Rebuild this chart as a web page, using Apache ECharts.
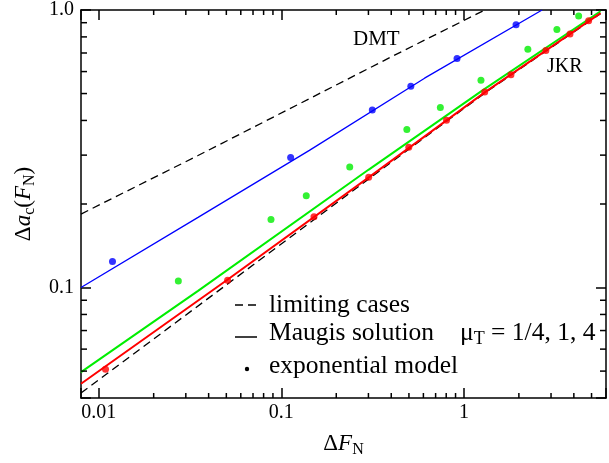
<!DOCTYPE html>
<html>
<head>
<meta charset="utf-8">
<title>contact radius vs load</title>
<style>
    html, body { margin: 0; padding: 0; background: #fff; }
    #chart { width: 609px; height: 463px; }
</style>
</head>
<body>
<div id="chart"></div>
<script src="https://cdn.jsdelivr.net/npm/echarts@6/dist/echarts.min.js"></script>
<script>
    // axis ranges (log-log)
    var xMin = 0.008, xMax = 6;
    var yMin = 0.04, yMax = 1;

    // minor ticks, 2..9 of each decade
    var xMinorTicks = [0.02, 0.03, 0.04, 0.05, 0.06, 0.07, 0.08, 0.09,
        0.2, 0.3, 0.4, 0.5, 0.6, 0.7, 0.8, 0.9, 2, 3, 4, 5];
    var yMinorTicks = [0.05, 0.06, 0.07, 0.08, 0.09,
        0.2, 0.3, 0.4, 0.5, 0.6, 0.7, 0.8, 0.9];

    // limiting cases (dashed)
    var dmtX = [0.008, 0.035, 0.404, 1.30];
    var dmtY = [0.184, 0.299, 0.680, 1.0];
    var jkrX = [0.008, 0.0652, 0.30, 1.30, 5.6];
    var jkrY = [0.0417, 0.1164, 0.2457, 0.502, 0.97];

    // Maugis solution, mu_T = 1/4 (blue), 1 (green), 4 (red)
    var maugisQuarterX = [0.008, 0.035, 0.1425, 0.609, 2.68];
    var maugisQuarterY = [0.100, 0.179, 0.312, 0.568, 1.0];
    var maugisOneX = [0.008, 0.035, 0.30, 1.282, 5.6];
    var maugisOneY = [0.0496, 0.0973, 0.2656, 0.5164, 0.99];
    var maugisFourX = [0.008, 0.05, 0.30, 1.30, 5.6];
    var maugisFourY = [0.045, 0.106, 0.249, 0.505, 0.975];

    // exponential model (dots)
    var expQuarterX = [0.0119, 0.1125, 0.315, 0.512, 0.917, 1.93];
    var expQuarterY = [0.124, 0.294, 0.436, 0.531, 0.669, 0.884];
    var expOneX = [0.0273, 0.0878, 0.137, 0.237, 0.487, 0.743, 1.24, 2.24, 3.23, 4.25];
    var expOneY = [0.1055, 0.176, 0.214, 0.272, 0.371, 0.445, 0.558, 0.722, 0.851, 0.952];
    var expFourX = [0.0109, 0.0508, 0.151, 0.301, 0.499, 0.803, 1.30, 1.81, 2.81, 3.81, 4.82];
    var expFourY = [0.0508, 0.1063, 0.180, 0.2497, 0.320, 0.4004, 0.507, 0.585, 0.714, 0.819, 0.914];

    var FONT = '"Liberation Serif", "DejaVu Serif", serif';

    function zip(xs, ys) {
        return xs.map(function (x, i) { return [x, ys[i]]; });
    }

    function isDecade(v) {
        var l = Math.log(v) / Math.LN10;
        return Math.abs(l - Math.round(l)) < 1e-6;
    }

    function lineSeries(xs, ys, color, width, dash) {
        return {
            type: 'line',
            data: zip(xs, ys),
            symbol: 'none',
            smooth: false,
            lineStyle: { color: color, width: width, type: dash ? [8, 5] : 'solid' },
            silent: true,
            z: 3
        };
    }

    function dotSeries(xs, ys, color) {
        return {
            type: 'scatter',
            data: zip(xs, ys),
            symbol: 'circle',
            symbolSize: 7,
            itemStyle: { color: color },
            silent: true,
            z: 4
        };
    }

    var tickStyle = { stroke: '#000', lineWidth: 1.5 };

    var myChart = echarts.init(document.getElementById('chart'));

    var axisCommon = {
        axisLine: { show: true, lineStyle: { color: '#000', width: 1.5 } },
        axisTick: { show: true, inside: true, length: 10, lineStyle: { color: '#000', width: 1.5 } },
        splitLine: { show: false },
        minorTick: { show: false }
    };

    var nameRich = {
        n: { fontFamily: FONT, fontSize: 23, lineHeight: 28, color: '#000' },
        i: { fontFamily: FONT, fontSize: 23, lineHeight: 28, fontStyle: 'italic', color: '#000' },
        s: { fontFamily: FONT, fontSize: 16, lineHeight: 16, verticalAlign: 'bottom', color: '#000' }
    };

    var option = {
        animation: false,
        backgroundColor: '#fff',
        grid: { left: 81, right: -5, top: 8, bottom: 62, containLabel: false },
        xAxis: [
            echarts.util.merge({
                type: 'log', logBase: 10, min: xMin, max: xMax, position: 'bottom',
                axisLabel: {
                    margin: 5, color: '#000', fontFamily: FONT, fontSize: 20,
                    formatter: function (v) { return isDecade(v) ? String(+v.toPrecision(6)) : ''; }
                },
                name: '{n|Δ}{i|F}{s|N}',
                nameLocation: 'middle',
                nameGap: 32,
                nameTextStyle: { color: '#000', rich: nameRich }
            }, axisCommon, true),
            echarts.util.merge({
                type: 'log', logBase: 10, min: xMin, max: xMax, position: 'top',
                axisLabel: { show: false }
            }, axisCommon, true)
        ],
        yAxis: [
            echarts.util.merge({
                type: 'log', logBase: 10, min: yMin, max: yMax, position: 'left',
                axisLabel: {
                    margin: 7, color: '#000', fontFamily: FONT, fontSize: 20,
                    formatter: function (v) {
                        if (!isDecade(v)) return '';
                        return Math.abs(v - 1) < 1e-9 ? '1.0' : String(+v.toPrecision(6));
                    }
                },
                name: '{n|Δ}{i|a}{s|c}{n|(}{i|F}{s|N}{n|)}',
                nameLocation: 'middle',
                nameRotate: 90,
                nameGap: 40,
                nameTextStyle: { color: '#000', rich: nameRich }
            }, axisCommon, true),
            echarts.util.merge({
                type: 'log', logBase: 10, min: yMin, max: yMax, position: 'right',
                axisLabel: { show: false }
            }, axisCommon, true)
        ],
        series: [
            lineSeries(dmtX, dmtY, '#000', 1.3, true),
            lineSeries(jkrX, jkrY, '#000', 1.3, true),
            lineSeries(maugisQuarterX, maugisQuarterY, '#0000ff', 1.3, false),
            lineSeries(maugisOneX, maugisOneY, '#00ee00', 2, false),
            lineSeries(maugisFourX, maugisFourY, '#ff0000', 2, false),
            dotSeries(expQuarterX, expQuarterY, '#0000ff'),
            dotSeries(expOneX, expOneY, '#00ee00'),
            dotSeries(expFourX, expFourY, '#ff0000'),
            {
                // minor ticks on bottom and top axes
                type: 'custom',
                data: xMinorTicks.map(function (v) { return [v, yMin]; }),
                renderItem: function (params, api) {
                    var b = api.coord([api.value(0), yMin]);
                    var t = api.coord([api.value(0), yMax]);
                    return {
                        type: 'group', children: [
                            { type: 'line', shape: { x1: b[0], y1: b[1], x2: b[0], y2: b[1] - 5 }, style: tickStyle },
                            { type: 'line', shape: { x1: t[0], y1: t[1], x2: t[0], y2: t[1] + 5 }, style: tickStyle }
                        ]
                    };
                },
                clip: false, silent: true, z: 5
            },
            {
                // minor ticks on left and right axes
                type: 'custom',
                data: yMinorTicks.map(function (v) { return [xMin, v]; }),
                renderItem: function (params, api) {
                    var l = api.coord([xMin, api.value(1)]);
                    var r = api.coord([xMax, api.value(1)]);
                    return {
                        type: 'group', children: [
                            { type: 'line', shape: { x1: l[0], y1: l[1], x2: l[0] + 6, y2: l[1] }, style: tickStyle },
                            { type: 'line', shape: { x1: r[0], y1: r[1], x2: r[0] - 6, y2: r[1] }, style: tickStyle }
                        ]
                    };
                },
                clip: false, silent: true, z: 5
            }
        ],
        graphic: [
            { type: 'text', left: 353, top: 29, style: { text: 'DMT', font: '21px ' + FONT, fill: '#000' } },
            { type: 'text', left: 547, top: 57, style: { text: 'JKR', font: '20px ' + FONT, fill: '#000' } },
            // legend
            { type: 'line', shape: { x1: 235, y1: 305, x2: 257, y2: 305 }, style: { stroke: '#000', lineWidth: 1.5, lineDash: [8, 5] } },
            { type: 'line', shape: { x1: 235, y1: 337, x2: 257, y2: 337 }, style: { stroke: '#000', lineWidth: 1.5 } },
            { type: 'circle', shape: { cx: 247, cy: 369, r: 2.2 }, style: { fill: '#000' } },
            { type: 'text', x: 269, y: 305, style: { text: 'limiting cases', font: '25.5px ' + FONT, fill: '#000', verticalAlign: 'middle' } },
            { type: 'text', x: 269, y: 333, style: { text: 'Maugis solution', font: '25.5px ' + FONT, fill: '#000', verticalAlign: 'middle' } },
            { type: 'text', x: 269, y: 366, style: { text: 'exponential model', font: '25.5px ' + FONT, fill: '#000', verticalAlign: 'middle' } },
            {
                type: 'text', x: 460, y: 333,
                style: {
                    text: '{n|μ}{s|T}{n| = 1/4, 1, 4}',
                    verticalAlign: 'middle',
                    rich: {
                        n: { fontFamily: FONT, fontSize: 25.5, lineHeight: 30, fill: '#000' },
                        s: { fontFamily: FONT, fontSize: 18, lineHeight: 18, verticalAlign: 'bottom', fill: '#000' }
                    }
                }
            }
        ]
    };

    myChart.setOption(option);
</script>
</body>
</html>
